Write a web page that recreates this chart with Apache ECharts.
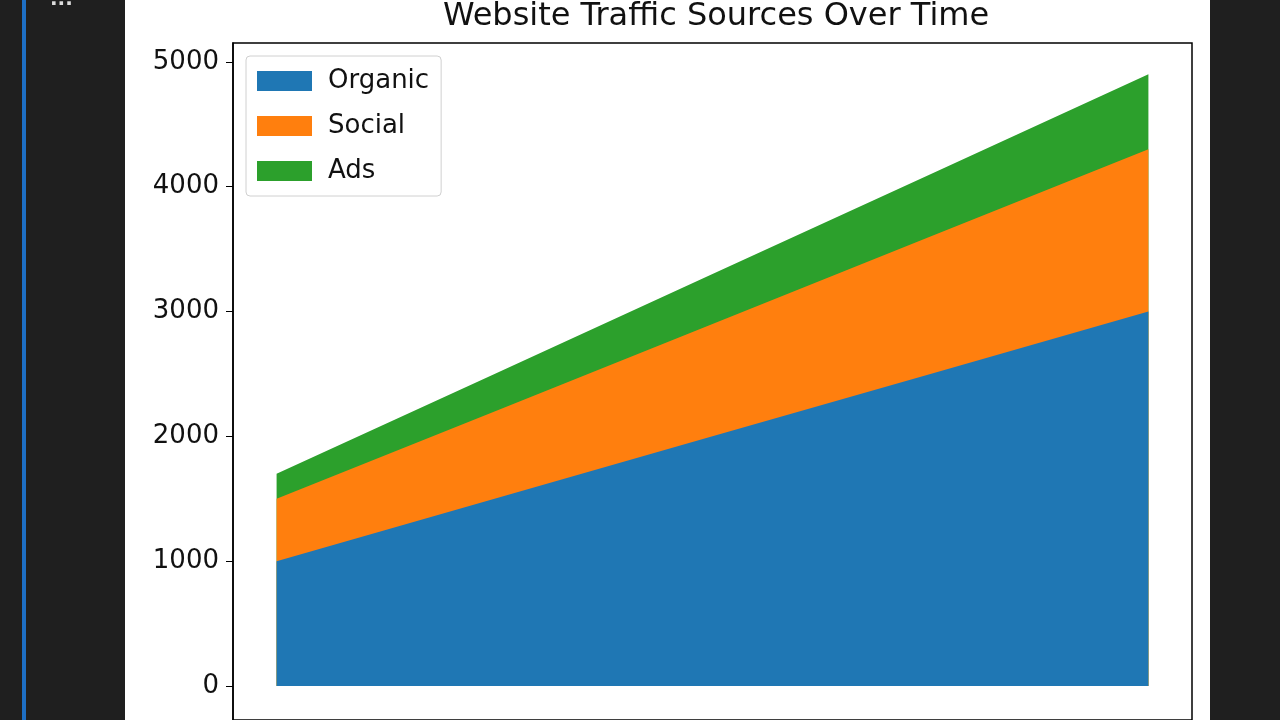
<!DOCTYPE html>
<html><head><meta charset="utf-8">
<script src="https://cdn.jsdelivr.net/npm/echarts@6/dist/echarts.min.js"></script>
<style>html,body{margin:0;padding:0;background:#fff}#c{width:1280px;height:720px}</style>
</head><body><div id="c"></div>
<script>
const categories = [0, 1, 2, 3, 4];
const organic = [1000, 1500, 2000, 2500, 3000];
const social = [500, 700, 900, 1100, 1300];
const ads = [200, 300, 400, 500, 600];
const yTicks = [0, 1000, 2000, 3000, 4000, 5000];

const cum1 = organic.slice();
const cum2 = organic.map((v, i) => v + social[i]);
const cum3 = cum2.map((v, i) => v + ads[i]);

const chart = echarts.init(document.getElementById('c'));
const mk = (name, arr, color, z) => ({
  name, type: 'line', z, data: categories.map((c, i) => [c, arr[i]]),
  symbol: 'none', lineStyle: {width: 0}, itemStyle: {color},
  areaStyle: {color, opacity: 1, origin: 0}
});
chart.setOption({
  animation: false,
  backgroundColor: '#fff',
  graphic: [
    {type: 'rect', shape: {x: 0, y: 0, width: 125, height: 720}, style: {fill: '#1f1f1f'}, z: -10},
    {type: 'rect', shape: {x: 22, y: 0, width: 4, height: 720}, style: {fill: '#1e6fc4'}, z: -9},
    {type: 'rect', shape: {x: 1210, y: 0, width: 70, height: 720}, style: {fill: '#1f1f1f'}, z: -10},
    {type: 'text', left: 50, top: -10, style: {text: '...', fill: '#ddd', font: 'bold 20px DejaVu Sans'}}
  ],
  title: {text: 'Website Traffic Sources Over Time', left: 711, top: -4, textAlign: 'center',
    textStyle: {fontFamily: 'DejaVu Sans', fontSize: 32, fontWeight: 'normal', color: '#111'}},
  legend: {
    orient: 'vertical', left: 246, top: 56, itemWidth: 55, itemHeight: 20, itemGap: 19,
    padding: [12, 12, 12, 11], borderColor: '#d0d0d0', borderWidth: 1, borderRadius: 4,
    backgroundColor: '#fff',
    textStyle: {fontFamily: 'DejaVu Sans', fontSize: 26, color: '#111', padding: [0, 0, 0, 11]},
    icon: 'rect', data: ['Organic', 'Social', 'Ads']
  },
  grid: {left: 233, top: 43, right: 88, bottom: 0, show: true, borderColor: '#000', borderWidth: 1.5, containLabel: false},
  xAxis: {type: 'value', min: -0.2, max: 4.2, splitLine: {show: false}, axisLabel: {show: false}, axisTick: {show: false},
    axisLine: {onZero: false, lineStyle: {color: '#000'}}},
  yAxis: {type: 'value', min: -272, max: 5151, splitLine: {show: false},
    axisLine: {show: true, onZero: false, lineStyle: {color: '#000', width: 1.5}},
    axisTick: {show: true, length: 7, lineStyle: {color: '#000'}, customValues: yTicks},
    axisLabel: {fontFamily: 'DejaVu Sans', fontSize: 26, color: '#111', margin: 14, customValues: yTicks,
      formatter: v => String(v)}},
  series: [mk('Ads', cum3, '#2ca02c', 1), mk('Social', cum2, '#ff7f0e', 2), mk('Organic', cum1, '#1f77b4', 3)]
});
</script></body></html>
